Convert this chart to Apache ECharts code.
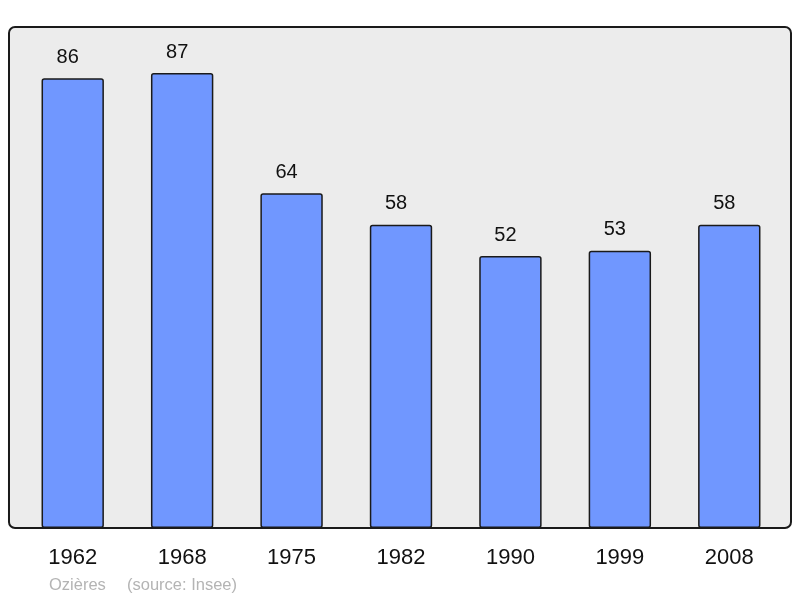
<!DOCTYPE html>
<html lang="fr">
<head>
<meta charset="UTF-8">
<title>Ozières - population</title>
<script src="https://cdn.jsdelivr.net/npm/echarts@6/dist/echarts.min.js"></script>
<style>
html, body { margin: 0; padding: 0; background: #fff; }
#chart { width: 800px; height: 598px; }
</style>
</head>
<body>
<div id="chart"></div>
<script>
// années du recensement et population
var years = ['1962', '1968', '1975', '1982', '1990', '1999', '2008'];
var population = [86, 87, 64, 58, 52, 53, 58];

var chart = echarts.init(document.getElementById('chart'));
var fontFam = '"Liberation Sans", Arial, sans-serif';

var option = {
  animation: false,
  backgroundColor: '#ffffff',
  graphic: [
    {
      type: 'rect',
      z: -10,
      shape: { x: 9, y: 27, width: 782, height: 501, r: 6 },
      style: { fill: '#ececec', stroke: '#1a1a1a', lineWidth: 2 }
    },
    {
      type: 'text',
      left: 49,
      top: 577,
      style: { text: 'Ozières', fill: '#b4b4b4', font: '16.5px ' + fontFam }
    },
    {
      type: 'text',
      left: 127,
      top: 577,
      style: { text: '(source: Insee)', fill: '#b4b4b4', font: '16.5px ' + fontFam }
    }
  ],
  grid: { left: 18, right: 16, top: 27, bottom: 70 },
  xAxis: {
    type: 'category',
    data: years,
    axisLine: { show: false },
    axisTick: { show: false },
    axisLabel: {
      color: '#111',
      fontSize: 22,
      margin: 19,
      fontFamily: fontFam
    }
  },
  yAxis: {
    type: 'value',
    min: 0,
    max: 95.8,
    show: false,
    splitLine: { show: false }
  },
  series: [{
    type: 'bar',
    data: population,
    barCategoryGap: '43%',
    itemStyle: {
      color: '#7097ff',
      borderColor: '#1a1a1a',
      borderWidth: 1.5,
      borderRadius: 2
    },
    label: {
      show: true,
      position: 'top',
      distance: 11,
      offset: [-5, 0],
      color: '#111',
      fontSize: 20,
      fontFamily: fontFam
    }
  }]
};

chart.setOption(option);
</script>
</body>
</html>
